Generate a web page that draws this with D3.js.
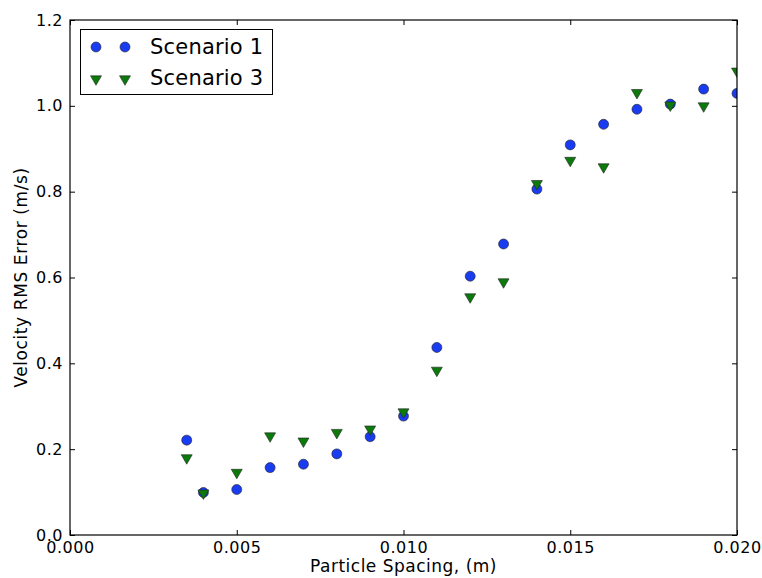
<!DOCTYPE html>
<html>
<head>
<meta charset="utf-8">
<script src="https://cdn.jsdelivr.net/npm/d3@7"></script>
<style>
  html, body { margin: 0; padding: 0; background: #fff; }
  svg text { font-family: "DejaVu Sans", sans-serif; fill: #000; }
</style>
</head>
<body>
<svg id="chart" width="762" height="578"></svg>
<script>
// Particle spacing (m) for each run
const spacing = [0.0035, 0.004, 0.005, 0.006, 0.007, 0.008, 0.009, 0.010, 0.011,
                 0.012, 0.013, 0.014, 0.015, 0.016, 0.017, 0.018, 0.019, 0.020];
// Velocity RMS error (m/s)
const scenario1 = [0.221, 0.099, 0.106, 0.157, 0.165, 0.189, 0.229, 0.277, 0.437,
                   0.603, 0.678, 0.806, 0.909, 0.957, 0.992, 1.004, 1.039, 1.029];
const scenario3 = [0.182, 0.100, 0.148, 0.233, 0.221, 0.241, 0.249, 0.289, 0.386,
                   0.557, 0.592, 0.821, 0.875, 0.860, 1.033, 1.004, 1.002, 1.083];
const xTicks = [0.000, 0.005, 0.010, 0.015, 0.020];
const yTicks = [0.0, 0.2, 0.4, 0.6, 0.8, 1.0, 1.2];
const seriesNames = ["Scenario 1", "Scenario 3"];

const svg = d3.select("#chart");
const padL = 70, padR = 737, padT = 20, padB = 535;

const x = d3.scaleLinear().domain([0, 0.020]).range([padL, padR]);
const y = d3.scaleLinear().domain([0, 1.2]).range([padB, padT]);

const blue = "#1a3cf0", green = "#0b7a0b";

svg.append("defs").append("clipPath").attr("id", "plotclip")
  .append("rect").attr("x", padL).attr("y", padT)
  .attr("width", padR - padL).attr("height", padB - padT);

const tri = d3.symbol().type(d3.symbolTriangle).size(52);

function triangleDown(g, cx, cy) {
  g.append("path")
    .attr("d", tri())
    .attr("transform", `translate(${cx},${cy + 1}) rotate(180)`)
    .attr("fill", green).attr("stroke", "#222").attr("stroke-width", 0.6);
}
function circle(g, cx, cy) {
  g.append("circle").attr("cx", cx).attr("cy", cy).attr("r", 5)
    .attr("fill", blue).attr("stroke", "#222").attr("stroke-width", 0.6);
}

const marks = svg.append("g").attr("clip-path", "url(#plotclip)");
spacing.forEach((s, i) => circle(marks, x(s), y(scenario1[i])));
spacing.forEach((s, i) => triangleDown(marks, x(s), y(scenario3[i])));

// Axes with inward ticks on all four sides
const tickLen = 5;
const fmtX = d3.format(".3f"), fmtY = d3.format(".1f");

const xb = svg.append("g").attr("transform", `translate(0,${padB})`)
  .call(d3.axisBottom(x).tickValues(xTicks).tickFormat(fmtX).tickSizeInner(-tickLen).tickSizeOuter(0).tickPadding(7));
const xt = svg.append("g").attr("transform", `translate(0,${padT})`)
  .call(d3.axisTop(x).tickValues(xTicks).tickFormat("").tickSizeInner(-tickLen).tickSizeOuter(0));
const yl = svg.append("g").attr("transform", `translate(${padL},0)`)
  .call(d3.axisLeft(y).tickValues(yTicks).tickFormat(fmtY).tickSizeInner(-tickLen).tickSizeOuter(0).tickPadding(7));
const yr = svg.append("g").attr("transform", `translate(${padR},0)`)
  .call(d3.axisRight(y).tickValues(yTicks).tickFormat("").tickSizeInner(-tickLen).tickSizeOuter(0));

[xb, xt, yl, yr].forEach(g => {
  g.select(".domain").remove();
  g.selectAll(".tick line").attr("stroke", "#000").attr("stroke-width", 1);
  g.selectAll("text").attr("font-size", 16).attr("letter-spacing", 0.5)
    .attr("font-family", "DejaVu Sans, sans-serif").attr("fill", "#000");
});

svg.append("rect").attr("x", padL).attr("y", padT)
  .attr("width", padR - padL).attr("height", padB - padT)
  .attr("fill", "none").attr("stroke", "#000").attr("stroke-width", 1.2);

// Axis titles
svg.append("text").attr("x", (padL + padR) / 2).attr("y", 572)
  .attr("text-anchor", "middle").attr("font-size", 17).attr("letter-spacing", 0.5)
  .text("Particle Spacing, (m)");
svg.append("text").attr("transform", `translate(27,${(padT + padB) / 2}) rotate(-90)`)
  .attr("text-anchor", "middle").attr("font-size", 17).attr("letter-spacing", 0.6)
  .text("Velocity RMS Error (m/s)");

// Legend
const lg = svg.append("g");
lg.append("rect").attr("x", 80.5).attr("y", 29.5).attr("width", 192).attr("height", 65)
  .attr("fill", "#fff").attr("stroke", "#000").attr("stroke-width", 1);
const rows = [47, 78];
circle(lg, 96, rows[0]); circle(lg, 125, rows[0]);
triangleDown(lg, 96, rows[1]); triangleDown(lg, 125, rows[1]);
seriesNames.forEach((n, i) => {
  lg.append("text").attr("x", 150).attr("y", rows[i]).attr("dy", "0.35em")
    .attr("font-size", 21).attr("letter-spacing", 0.2).text(n);
});
</script>
</body>
</html>
